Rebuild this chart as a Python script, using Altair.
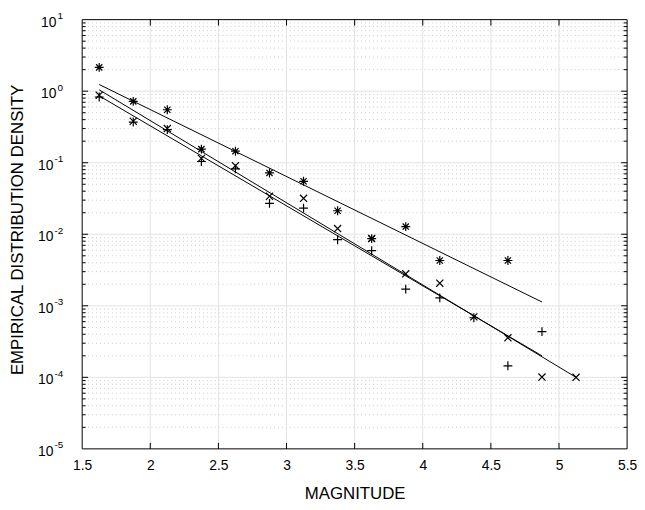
import altair as alt
import pandas as pd

# ---------------- data ----------------
mag_star = [1.625, 1.875, 2.125, 2.375, 2.625, 2.875, 3.125, 3.375, 3.625, 3.875, 4.125, 4.625]
dens_star = [2.15, 0.72, 0.55, 0.155, 0.145, 0.072, 0.055, 0.0213, 0.0087, 0.0128, 0.0043, 0.0043]

mag_x = [1.625, 1.875, 2.125, 2.375, 2.625, 2.875, 3.125, 3.375, 3.625, 3.875, 4.125, 4.375, 4.625, 4.875, 5.125]
dens_x = [0.88, 0.38, 0.30, 0.115, 0.091, 0.034, 0.0318, 0.012, 0.0087, 0.0028, 0.00207, 0.0007, 0.000357, 0.000101, 0.0001]

mag_plus = [1.625, 1.875, 2.125, 2.375, 2.625, 2.875, 3.125, 3.375, 3.625, 3.875, 4.125, 4.375, 4.625, 4.875]
dens_plus = [0.83, 0.37, 0.29, 0.104, 0.082, 0.027, 0.0232, 0.0084, 0.0059, 0.00171, 0.00129, 0.00068, 0.000145, 0.000436]

# fitted lines (end points)
fit_star_mag = [1.625, 4.875]
fit_star_dens = [1.24, 0.00113]
fit_x_mag = [1.625, 5.125]
fit_x_dens = [1.045, 0.0001]
fit_plus_mag = [1.625, 4.875]
fit_plus_dens = [0.86, 0.0002]

x_ticks = [1.5, 2, 2.5, 3, 3.5, 4, 4.5, 5, 5.5]
y_exponents = [1, 0, -1, -2, -3, -4, -5]

# ---------------- tables ----------------
markers = pd.concat([
    pd.DataFrame({"x": mag_star, "y": dens_star, "s": "star"}),
    pd.DataFrame({"x": mag_x, "y": dens_x, "s": "cross"}),
    pd.DataFrame({"x": mag_plus, "y": dens_plus, "s": "plus"}),
], ignore_index=True)

fits = pd.concat([
    pd.DataFrame({"x": fit_star_mag, "y": fit_star_dens, "s": "star"}),
    pd.DataFrame({"x": fit_x_mag, "y": fit_x_dens, "s": "cross"}),
    pd.DataFrame({"x": fit_plus_mag, "y": fit_plus_dens, "s": "plus"}),
], ignore_index=True)

decades = pd.DataFrame({"e": y_exponents})
decades["y"] = [10.0 ** e for e in y_exponents]
decades["exp"] = [str(e) for e in y_exponents]
minor = pd.DataFrame({"y": [m * 10.0 ** e for e in y_exponents if e < 1 for m in range(2, 10)]})
xt = pd.DataFrame({"x": x_ticks})
inner_x = xt[(xt.x > 1.5) & (xt.x < 5.5)]
inner_dec = decades[(decades.e > -5) & (decades.e < 1)]

W, H = 551, 434
FONT = "Liberation Sans"

xs = alt.Scale(domain=[1.5, 5.5], nice=False, zero=False)
ys = alt.Scale(type="log", domain=[1e-5, 10], nice=False)

x_axis = alt.Axis(
    title="MAGNITUDE", values=x_ticks, format="~g", labelFont=FONT, labelFontSize=14,
    labelColor="black", labelPadding=10, ticks=False, domain=False, grid=False,
    labelFlush=False, titleFont=FONT, titleFontSize=17, titleFontWeight="normal",
    titleColor="black", titleX=W / 2, titleY=45, titleBaseline="middle", titleAlign="center",
)
y_axis = alt.Axis(
    title="EMPIRICAL DISTRIBUTION DENSITY", labels=False, ticks=False, domain=False,
    grid=False, titleFont=FONT, titleFontSize=17, titleFontWeight="normal",
    titleColor="black", titleX=-65, titleY=212, titleAngle=270,
    titleBaseline="middle", titleAlign="center",
)

X = alt.X("x:Q", scale=xs, axis=x_axis)
Y = alt.Y("y:Q", scale=ys, axis=y_axis)

minor_grid = alt.Chart(minor).mark_rule(color="#bdbdbd", strokeWidth=0.8, strokeDash=[1, 3]).encode(y=Y)
major_grid_y = alt.Chart(inner_dec).mark_rule(color="#e3e3e3", strokeWidth=1).encode(y=Y)
major_grid_x = alt.Chart(inner_x).mark_rule(color="#e3e3e3", strokeWidth=1).encode(x=X)

# inward ticks
tick_b = alt.Chart(inner_x).mark_rule(color="black", strokeWidth=1).encode(
    x=X, y=alt.value(H), y2=alt.value(H - 6))
tick_t = alt.Chart(inner_x).mark_rule(color="black", strokeWidth=1).encode(
    x=X, y=alt.value(0), y2=alt.value(6))
tick_l = alt.Chart(inner_dec).mark_rule(color="black", strokeWidth=1).encode(
    y=Y, x=alt.value(0), x2=alt.value(6))
tick_r = alt.Chart(inner_dec).mark_rule(color="black", strokeWidth=1).encode(
    y=Y, x=alt.value(W - 6), x2=alt.value(W))
mtick_l = alt.Chart(minor).mark_rule(color="black", strokeWidth=1).encode(
    y=Y, x=alt.value(0), x2=alt.value(3.5))
mtick_r = alt.Chart(minor).mark_rule(color="black", strokeWidth=1).encode(
    y=Y, x=alt.value(W - 3.5), x2=alt.value(W))

frame = alt.Chart(pd.DataFrame({"k": [0]})).mark_rect(
    fill=None, stroke="black", strokeWidth=1).encode(
    x=alt.value(0), x2=alt.value(W), y=alt.value(0), y2=alt.value(H))

lines = alt.Chart(fits).mark_line(color="black", strokeWidth=1).encode(
    x=X, y=Y, detail="s:N")

PLUS = "M-1,0L1,0M0,-1L0,1"
CROSS = "M-0.8,-0.8L0.8,0.8M-0.8,0.8L0.8,-0.8"
STAR = "M-1,0L1,0M0,-1L0,1M-0.7,-0.7L0.7,0.7M-0.7,0.7L0.7,-0.7"

points = alt.Chart(markers).mark_point(
    filled=False, color="black", strokeWidth=1.2, size=81, opacity=1).encode(
    x=X, y=Y,
    shape=alt.Shape("s:N", scale=alt.Scale(domain=["star", "cross", "plus"],
                                           range=[STAR, CROSS, PLUS]), legend=None),
)

pos = decades[decades.e >= 0]
neg = decades[decades.e < 0]
lab_pos_10 = alt.Chart(pos).mark_text(align="right", baseline="middle", dy=3, font=FONT,
                                      fontSize=14, color="black", text="10").encode(
    y=Y, x=alt.value(-26))
lab_pos_e = alt.Chart(pos).mark_text(align="left", baseline="middle", dy=-3.5, font=FONT,
                                     fontSize=10, color="black").encode(
    y=Y, x=alt.value(-25), text="exp:N")
lab_neg_10 = alt.Chart(neg).mark_text(align="right", baseline="middle", dy=3, font=FONT,
                                      fontSize=14, color="black", text="10").encode(
    y=Y, x=alt.value(-29))
lab_neg_e = alt.Chart(neg).mark_text(align="left", baseline="middle", dy=-3.5, font=FONT,
                                     fontSize=10, color="black").encode(
    y=Y, x=alt.value(-28), text="exp:N")

chart = alt.layer(
    minor_grid, major_grid_y, major_grid_x, lines, points,
    tick_b, tick_t, tick_l, tick_r, mtick_l, mtick_r, frame,
    lab_pos_10, lab_pos_e, lab_neg_10, lab_neg_e,
).properties(
    width=W, height=H,
    autosize=alt.AutoSizeParams(type="none"),
    padding={"left": 75, "top": 9, "right": 10, "bottom": 56},
    background="white",
).configure_view(stroke=None)

chart.save("out.html", embed_options={"renderer": "svg", "actions": False})
